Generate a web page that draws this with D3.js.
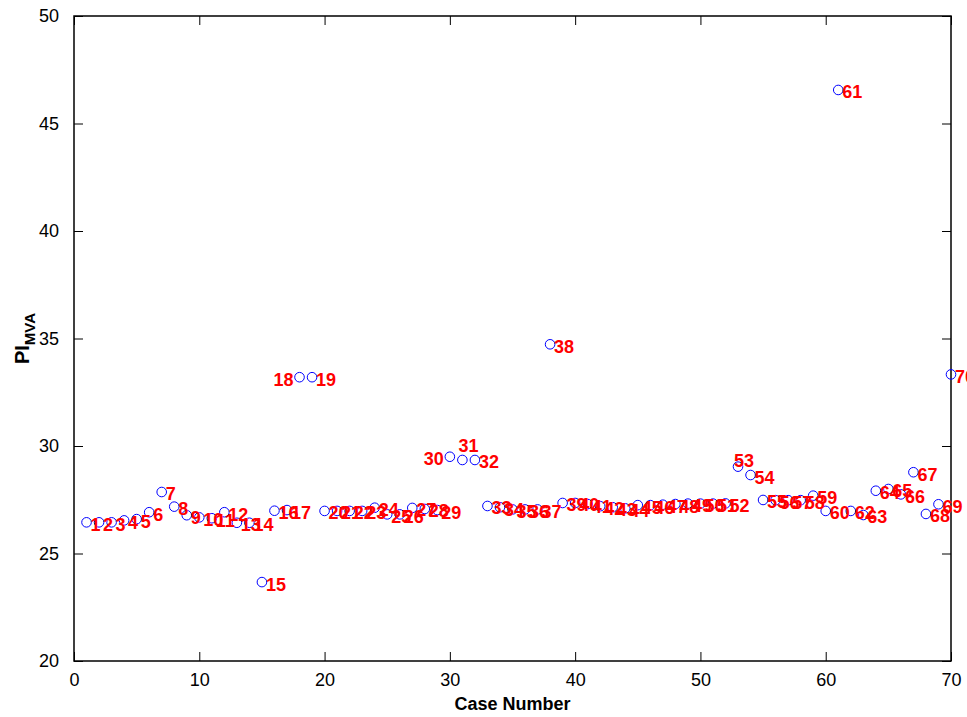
<!DOCTYPE html>
<html>
<head>
<meta charset="utf-8">
<script src="https://cdn.jsdelivr.net/npm/d3@7"></script>
<style>
  body { margin: 0; background: #fff; }
  svg { display: block; font-family: 'Liberation Sans', Arial, sans-serif; }
</style>
</head>
<body>
<svg width="967" height="717"></svg>
<script>
// case numbers and PI_MVA values
var cases = [
  1, 2, 3, 4, 5, 6, 7, 8, 9, 10,
  11, 12, 13, 14, 15, 16, 17, 18, 19, 20,
  21, 22, 23, 24, 25, 26, 27, 28, 29, 30,
  31, 32, 33, 34, 35, 36, 37, 38, 39, 40,
  41, 42, 43, 44, 45, 46, 47, 48, 49, 50,
  51, 52, 53, 54, 55, 56, 57, 58, 59, 60,
  61, 62, 63, 64, 65, 66, 67, 68, 69, 70
]
var piMva = [
  26.45, 26.45, 26.45, 26.54, 26.60, 26.92, 27.86, 27.18, 26.78, 26.68,
  26.64, 26.92, 26.43, 26.43, 23.67, 26.99, 27.02, 33.20, 33.20, 26.98,
  26.98, 26.98, 26.98, 27.13, 26.82, 26.82, 27.12, 27.07, 27.02, 29.50,
  29.35, 29.35, 27.21, 27.15, 27.05, 27.05, 27.05, 34.73, 27.35, 27.35,
  27.30, 27.20, 27.15, 27.10, 27.25, 27.25, 27.27, 27.30, 27.32, 27.32,
  27.32, 27.33, 29.04, 28.65, 27.49, 27.48, 27.48, 27.48, 27.69, 26.98,
  46.56, 26.98, 26.79, 27.92, 28.00, 27.75, 28.78, 26.84, 27.29, 33.33
]
var xTicks = [0, 10, 20, 30, 40, 50, 60, 70]
var yTicks = [20, 25, 30, 35, 40, 45, 50]

var margin = { top: 16, right: 16, bottom: 56, left: 74 }
var width = 967
var height = 717
var plotW = width - margin.left - margin.right
var plotH = height - margin.top - margin.bottom
var tickLen = 9

var svg = d3.select('svg')
var g = svg.append('g').attr('transform', 'translate(' + margin.left + ',' + margin.top + ')')

var x = d3.scaleLinear().domain([0, 70]).range([0, plotW])
var y = d3.scaleLinear().domain([20, 50]).range([plotH, 0])

// axes: ticks point inward on all four sides (matlab box)
function styleAxis (sel, showText) {
  sel.select('.domain').remove()
  sel.selectAll('.tick line').attr('stroke', '#000').attr('stroke-width', 1)
  sel.selectAll('.tick text')
    .attr('fill', '#000')
    .style('font-size', '18px')
    .style('display', showText ? null : 'none')
}

g.append('g')
  .attr('transform', 'translate(0,' + plotH + ')')
  .call(d3.axisBottom(x).tickValues(xTicks).tickSizeInner(-tickLen).tickSizeOuter(0).tickPadding(19))
  .call(function (s) { styleAxis(s, true) })
  .selectAll('.tick text').attr('dy', '0.35em')

g.append('g')
  .call(d3.axisTop(x).tickValues(xTicks).tickSizeInner(-tickLen).tickSizeOuter(0))
  .call(function (s) { styleAxis(s, false) })

g.append('g')
  .call(d3.axisLeft(y).tickValues(yTicks).tickSizeInner(-tickLen).tickSizeOuter(0).tickPadding(15))
  .call(function (s) { styleAxis(s, true) })

g.append('g')
  .attr('transform', 'translate(' + plotW + ',0)')
  .call(d3.axisRight(y).tickValues(yTicks).tickSizeInner(-tickLen).tickSizeOuter(0))
  .call(function (s) { styleAxis(s, false) })

g.append('rect')
  .attr('width', plotW)
  .attr('height', plotH)
  .attr('fill', 'none')
  .attr('stroke', '#000')
  .attr('stroke-width', 1.5)

// points
var pts = cases.map(function (c, i) { return { c: c, v: piMva[i] } })

g.append('g').selectAll('circle')
  .data(pts)
  .enter().append('circle')
  .attr('cx', function (d) { return x(d.c) })
  .attr('cy', function (d) { return y(d.v) })
  .attr('r', 4.8)
  .attr('fill', 'none')
  .attr('stroke', '#0000ff')
  .attr('stroke-width', 1)

// a few labels were nudged off their points in the original
var leftLabels = [18, 30]
var aboveLabels = [31, 53]

svg.append('g')
  .attr('transform', 'translate(' + margin.left + ',' + margin.top + ')')
  .selectAll('text')
  .data(pts)
  .enter().append('text')
  .attr('x', function (d) {
    if (leftLabels.indexOf(d.c) >= 0) return x(d.c) - 6
    if (aboveLabels.indexOf(d.c) >= 0) return x(d.c) - 4
    return x(d.c) + 4
  })
  .attr('y', function (d) {
    if (d.c === 31) return y(d.v) - 14
    if (d.c === 53) return y(d.v) - 6
    return y(d.v) + 2
  })
  .attr('dy', '0.36em')
  .attr('text-anchor', function (d) { return leftLabels.indexOf(d.c) >= 0 ? 'end' : 'start' })
  .attr('fill', '#ff0000')
  .style('font-size', '18px')
  .style('font-weight', 'bold')
  .text(function (d) { return d.c })

// axis titles
svg.append('text')
  .attr('x', margin.left + plotW / 2)
  .attr('y', 710)
  .attr('text-anchor', 'middle')
  .style('font-size', '18px')
  .style('font-weight', 'bold')
  .text('Case Number')

var yl = svg.append('text')
  .attr('transform', 'translate(29,' + (margin.top + plotH / 2) + ') rotate(-90)')
  .attr('text-anchor', 'middle')
  .style('font-size', '20px')
  .style('font-weight', 'bold')
yl.append('tspan').text('PI')
yl.append('tspan').attr('dy', 6).style('font-size', '15px').text('MVA')
</script>
</body>
</html>
